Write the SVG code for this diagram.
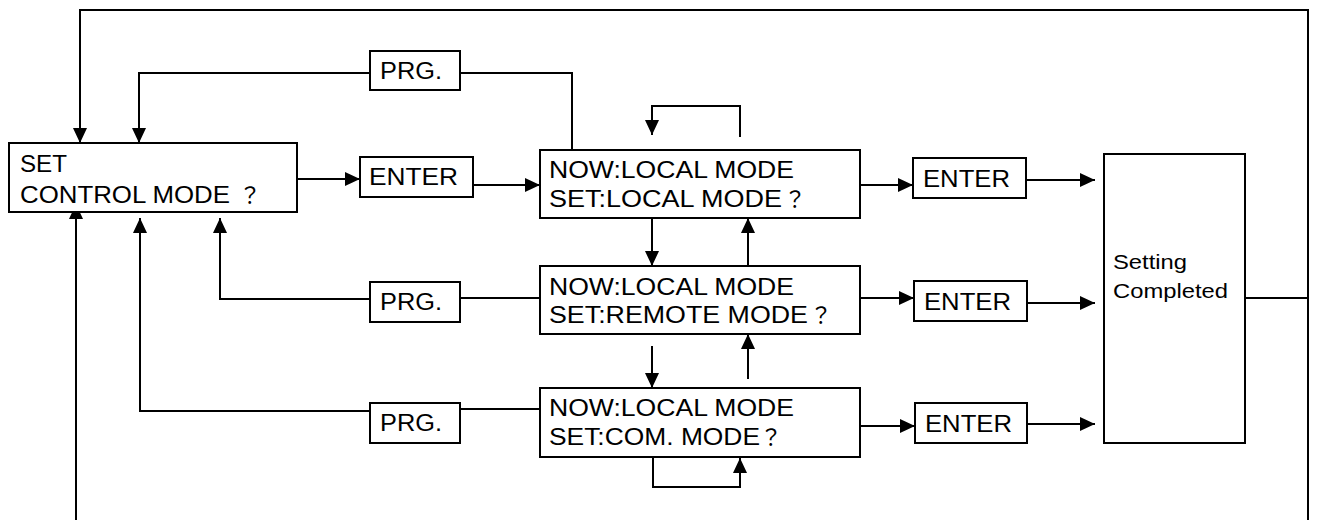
<svg xmlns="http://www.w3.org/2000/svg" width="1317" height="520" viewBox="0 0 1317 520">
<defs>
<marker id="arr" viewBox="0 0 15 14" markerWidth="15" markerHeight="14" markerUnits="userSpaceOnUse" refX="15" refY="7" orient="auto">
<path d="M0,0 L15,7 L0,14 z" fill="#000"/>
</marker>
<style>
rect{fill:#fff;stroke:#000;stroke-width:2}
text{font-family:"Liberation Sans",Arial,sans-serif;font-size:23px;fill:#000}
.q{font-family:"Noto Sans CJK JP","Noto Sans CJK SC",sans-serif;font-size:22px}
.sm{font-size:21px}
#connectors path{fill:none;stroke:#000;stroke-width:2}
#connectors path.a{marker-end:url(#arr)}
</style>
</defs>
<rect x="0" y="0" width="1317" height="520" style="fill:#fff;stroke:none"/>
<g id="connectors">
<path d="M1245,298 H1308"/>
<path class="a" d="M1308,520 V10 H80 V143"/>
<path class="a" d="M76,520 V204"/>
<path d="M572,150 V73 H460"/>
<path class="a" d="M370,73 H139 V143"/>
<path class="a" d="M297,179 H360"/>
<path class="a" d="M473,185 H540"/>
<path class="a" d="M860,185 H913"/>
<path class="a" d="M1026,180 H1095"/>
<path class="a" d="M860,298 H914"/>
<path class="a" d="M1027,303 H1095"/>
<path class="a" d="M860,426 H915"/>
<path class="a" d="M1027,424 H1095"/>
<path class="a" d="M740,137 V106 H652 V135"/>
<path class="a" d="M652,218 V266"/>
<path class="a" d="M748,266 V218"/>
<path class="a" d="M652,346 V388"/>
<path class="a" d="M748,379 V334"/>
<path class="a" d="M653,457 V487 H740 V458"/>
<path d="M540,298 H460"/>
<path class="a" d="M370,299 H220 V218"/>
<path d="M540,409 H460"/>
<path class="a" d="M370,411 H140 V218"/>
</g>
<g id="set-control-mode">
<rect x="9" y="143" width="288" height="69"/>
<text x="20" y="172" font-size="24" textLength="47" lengthAdjust="spacingAndGlyphs">SET</text>
<text x="20" y="203" font-size="24"><tspan textLength="210" lengthAdjust="spacingAndGlyphs">CONTROL MODE</tspan><tspan class="q" x="239">？</tspan></text>
</g>
<g id="prg-1">
<rect x="370" y="51" width="90" height="39"/>
<text x="380" y="79" font-size="24" textLength="62" lengthAdjust="spacingAndGlyphs">PRG.</text>
</g>
<g id="prg-2">
<rect x="370" y="282" width="90" height="40"/>
<text x="380" y="310" font-size="24" textLength="62" lengthAdjust="spacingAndGlyphs">PRG.</text>
</g>
<g id="prg-3">
<rect x="370" y="403" width="90" height="40"/>
<text x="380" y="431" font-size="24" textLength="62" lengthAdjust="spacingAndGlyphs">PRG.</text>
</g>
<g id="enter-0">
<rect x="360" y="157" width="113" height="40"/>
<text x="369" y="185" textLength="89" lengthAdjust="spacingAndGlyphs">ENTER</text>
</g>
<g id="now-local">
<rect x="540" y="150" width="320" height="68"/>
<text x="549" y="178" textLength="245" lengthAdjust="spacingAndGlyphs">NOW:LOCAL MODE</text>
<text x="549" y="207"><tspan textLength="233" lengthAdjust="spacingAndGlyphs">SET:LOCAL MODE</tspan><tspan class="q" x="784">？</tspan></text>
</g>
<g id="now-remote">
<rect x="540" y="266" width="320" height="68"/>
<text x="549" y="295" textLength="245" lengthAdjust="spacingAndGlyphs">NOW:LOCAL MODE</text>
<text x="549" y="323"><tspan textLength="259" lengthAdjust="spacingAndGlyphs">SET:REMOTE MODE</tspan><tspan class="q" x="810">？</tspan></text>
</g>
<g id="now-com">
<rect x="540" y="388" width="320" height="69"/>
<text x="549" y="416" textLength="245" lengthAdjust="spacingAndGlyphs">NOW:LOCAL MODE</text>
<text x="549" y="445"><tspan textLength="211" lengthAdjust="spacingAndGlyphs">SET:COM. MODE</tspan><tspan class="q" x="760">？</tspan></text>
</g>
<g id="enter-1">
<rect x="913" y="158" width="113" height="40"/>
<text x="923" y="187" textLength="87" lengthAdjust="spacingAndGlyphs">ENTER</text>
</g>
<g id="enter-2">
<rect x="914" y="281" width="113" height="40"/>
<text x="924" y="310" textLength="87" lengthAdjust="spacingAndGlyphs">ENTER</text>
</g>
<g id="enter-3">
<rect x="915" y="403" width="112" height="40"/>
<text x="925" y="432" textLength="87" lengthAdjust="spacingAndGlyphs">ENTER</text>
</g>
<g id="setting-completed">
<rect x="1104" y="154" width="141" height="289"/>
<text class="sm" x="1113" y="269" textLength="74" lengthAdjust="spacingAndGlyphs">Setting</text>
<text class="sm" x="1113" y="298" textLength="115" lengthAdjust="spacingAndGlyphs">Completed</text>
</g>
</svg>
